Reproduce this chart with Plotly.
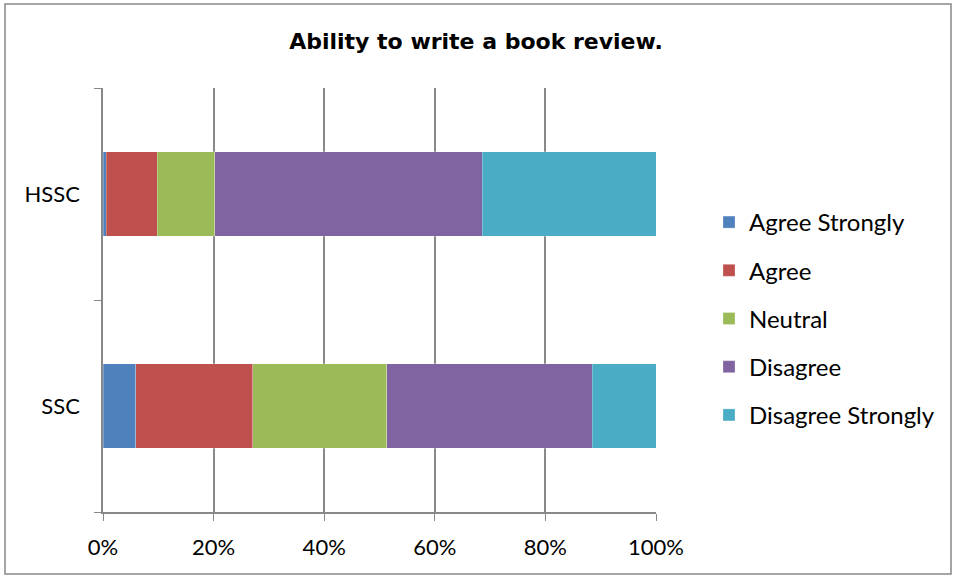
import plotly.graph_objects as go

categories = ["SSC", "HSSC"]
series_names = ["Agree Strongly", "Agree", "Neutral", "Disagree", "Disagree Strongly"]
agree_strongly = [5.9, 0.6]
agree = [21.2, 9.2]
neutral = [24.2, 10.4]
disagree = [37.2, 48.4]
disagree_strongly = [11.5, 31.4]
colors = ["#4F81BD", "#C0504D", "#9BBB59", "#8064A2", "#4BACC6"]
x_ticks = [0, 20, 40, 60, 80, 100]

values = [agree_strongly, agree, neutral, disagree, disagree_strongly]

fig = go.Figure()
for i, (name, vals, col) in enumerate(zip(series_names, values, colors)):
    fig.add_trace(go.Bar(
        y=categories, x=vals, name=name, orientation="h",
        marker=dict(color=col, line=dict(color="rgba(255,255,255,0.5)", width=0.5)),
        legendgroup=name, width=0.4,
    ))

W, H = 956, 578
ml, mr, mt, mb = 103, 300, 88, 66
pw, ph = W - ml - mr, H - mt - mb

def px_x(p):
    return (p - ml) / pw

def px_y(p):
    return (H - mb - p) / ph

fig.update_layout(
    width=W, height=H,
    margin=dict(l=ml, r=mr, t=mt, b=mb),
    barmode="stack",
    paper_bgcolor="white", plot_bgcolor="white",
    font=dict(family="Lato, sans-serif", size=22, color="black"),
    title=dict(text="<b>Ability to write a book review.</b>", x=px_x(476), xref="paper",
               xanchor="center", y=1 - 41 / H, yanchor="middle",
               font=dict(family="DejaVu Sans", size=22, color="black")),
    legend=dict(x=px_x(709), xref="paper", y=px_y(200), yanchor="top", xanchor="left",
                traceorder="grouped", tracegroupgap=14, font=dict(size=24),
                itemwidth=30),
    xaxis=dict(range=[0, 100], tickvals=x_ticks, ticktext=[f"{v}%" for v in x_ticks],
               showgrid=True, gridcolor="#888888", gridwidth=1.5, zeroline=False,
               showline=True, linecolor="#888888", linewidth=1.5,
               ticks="outside", ticklen=7, tickcolor="#888888",
               ticklabelstandoff=8, fixedrange=True),
    yaxis=dict(type="category", categoryorder="array", categoryarray=categories,
               range=[-0.5, 1.5], showline=True, linecolor="#888888", linewidth=1.5,
               ticks="outside", ticklen=7, tickcolor="#888888", tickson="boundaries",
               showgrid=False, ticklabelstandoff=17),
    showlegend=True,
)

fig.add_shape(type="rect", xref="paper", yref="paper",
              x0=px_x(5), x1=px_x(951), y0=px_y(574), y1=px_y(4),
              line=dict(color="#888888", width=1.5), fillcolor="rgba(0,0,0,0)", layer="below")

fig.write_html("out.html", config={"displayModeBar": False},
               post_script="document.body.style.margin='0px';")
